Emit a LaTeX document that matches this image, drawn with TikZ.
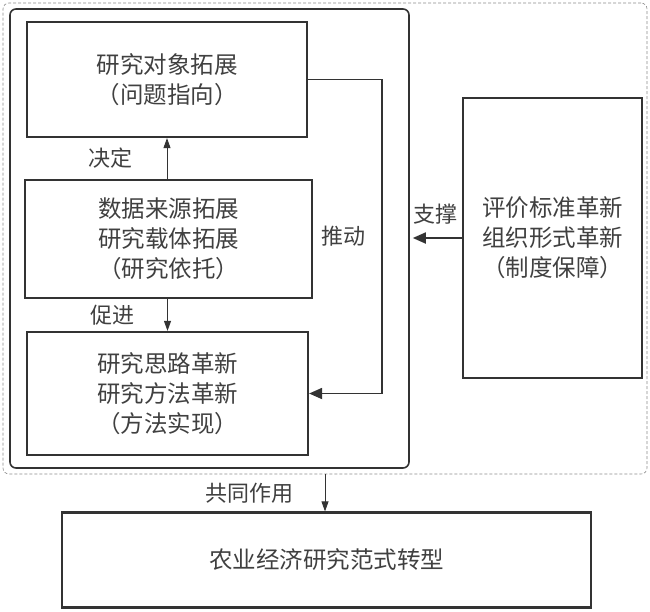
\documentclass[tikz,border=0pt]{standalone}
\usepackage{fontspec}
\newfontfamily\cjk{Noto Sans CJK SC}
\usetikzlibrary{arrows.meta}
\tikzset{
  box/.style={draw=black!80, line width=2.2pt, inner sep=0pt, align=center, text=black!75, font=\cjk\fontsize{23.5}{30}\selectfont},
  lbl/.style={text=black!75, font=\cjk\fontsize{22}{24}\selectfont, inner sep=0pt},
  arr/.style={draw=black!80, line width=0.9pt, -{Triangle[length=10pt, width=7pt]}},
  bigarr/.style={draw=black!80, line width=1.8pt, -{Triangle[length=13pt, width=11pt]}}
}
\begin{document}
\begin{tikzpicture}[x=1pt, y=-1pt]
\useasboundingbox (0,0) rectangle (650,611);
% frames
\node (outer) [draw=black!45, densely dashed, line width=0.6pt, rounded corners=6pt, minimum width=644pt, minimum height=471pt, inner sep=0pt] at (325,238.5) {};
\node (inner) [draw=black!80, line width=1.6pt, rounded corners=6pt, minimum width=399pt, minimum height=459pt, inner sep=0pt] at (209.5,238.5) {};
% boxes
\node (obj) [box, minimum width=280pt, minimum height=115pt] at (167,79.5) {研究对象拓展\\（问题指向）};
\node (data) [box, minimum width=287pt, minimum height=118pt] at (168.5,239) {数据来源拓展\\研究载体拓展\\（研究依托）};
\node (meth) [box, minimum width=281pt, minimum height=123pt] at (167.5,393.5) {研究思路革新\\研究方法革新\\（方法实现）};
\node (inst) [box, minimum width=179pt, minimum height=280pt] at (552.5,238) {评价标准革新\\组织形式革新\\（制度保障）};
\node (goal) [box, minimum width=529pt, minimum height=95pt] at (326.5,560) {农业经济研究范式转型};
% links
\draw[arr] (data.north -| obj.south) -- (obj.south) node[lbl, midway, left=34pt]{决定};
\draw[arr] (data.south -| meth.north) -- (meth.north) node[lbl, midway, left=33pt]{促进};
\draw[bigarr] (obj.east) -- ++(74,0) |- (meth.east) node[lbl, pos=0.25, left=16pt]{推动};
\draw[bigarr, shorten >=3pt] (inst.west) -- (inner.east |- inst.west) node[lbl, midway, above=13pt]{支撑};
\draw[arr] (outer.south) -- (outer.south |- goal.north) node[lbl, midway, left=31pt]{共同作用};
\end{tikzpicture}
\end{document}
